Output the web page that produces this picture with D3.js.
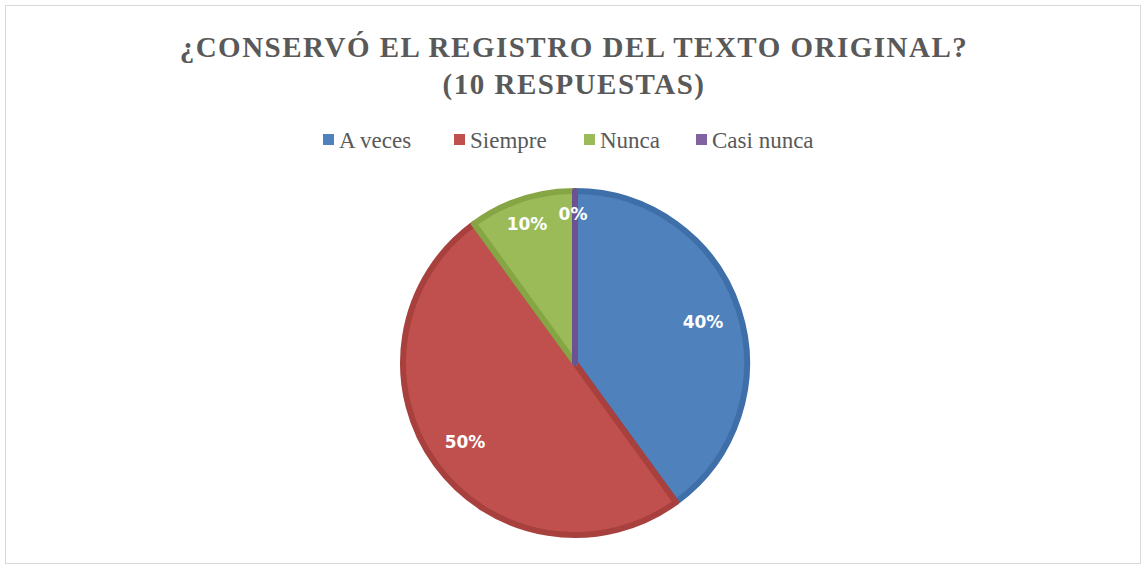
<!DOCTYPE html>
<html><head><meta charset="utf-8">
<script src="https://cdn.jsdelivr.net/npm/d3@7"></script>
<style>body{margin:0;background:#fff}</style></head>
<body><svg id="c" width="1148" height="570"></svg>
<script>
const categories = ["A veces", "Siempre", "Nunca", "Casi nunca"];
const values = [40, 50, 10, 0];
const colors = ["#4F81BD", "#C0504D", "#9BBB59", "#8064A2"];
const strokes = ["#3F6FA8", "#A8403D", "#86A545", "#6C5290"];
const labelPos = [[703, 323], [465, 443], [527, 225], [573, 215]];

const svg = d3.select("#c");
svg.append("rect").attr("x", 5.5).attr("y", 5.5).attr("width", 1135).attr("height", 558)
  .attr("fill", "#fff").attr("stroke", "#d9d9d9");

const title = svg.append("text").attr("text-anchor", "middle")
  .attr("font-family", "Liberation Serif, serif").attr("font-weight", "bold")
  .attr("font-size", 29).attr("fill", "#595959").attr("letter-spacing", 1.5);
title.append("tspan").attr("x", 574).attr("y", 57).text("¿CONSERVÓ EL REGISTRO DEL TEXTO ORIGINAL?");
title.append("tspan").attr("x", 574).attr("y", 94).text("(10 RESPUESTAS)");

// legend
const legX = [323, 454, 584, 696];
const leg = svg.append("g").selectAll("g").data(categories).join("g")
  .attr("transform", (d, i) => `translate(${legX[i]},140)`);
leg.append("rect").attr("x", 0).attr("y", -6).attr("width", 11).attr("height", 11)
  .attr("fill", (d, i) => colors[i]);
leg.append("text").attr("x", 16).attr("y", 8).attr("font-family", "Liberation Serif, serif")
  .attr("font-size", 23).attr("fill", "#595959").text(d => d);

const cx = 575, cy = 363, r = 175;
const pie = d3.pie().sort(null).value(d => d);
const arcs = pie(values);
const arc = d3.arc().innerRadius(0).outerRadius(r - 3);
const g = svg.append("g").attr("transform", `translate(${cx},${cy})`);
g.selectAll("path").data(arcs).join("path")
  .attr("d", arc).attr("fill", (d, i) => colors[i])
  .attr("stroke", (d, i) => strokes[i]).attr("stroke-width", 6)
  .attr("stroke-linejoin", "round");

svg.append("g").selectAll("text").data(arcs).join("text")
  .attr("x", (d, i) => labelPos[i][0]).attr("y", (d, i) => labelPos[i][1])
  .attr("text-anchor", "middle").attr("dominant-baseline", "middle")
  .attr("font-family", "DejaVu Sans, sans-serif").attr("font-weight", "bold")
  .attr("font-size", 17).attr("fill", "#fff")
  .text(d => d.data + "%");
</script></body></html>
